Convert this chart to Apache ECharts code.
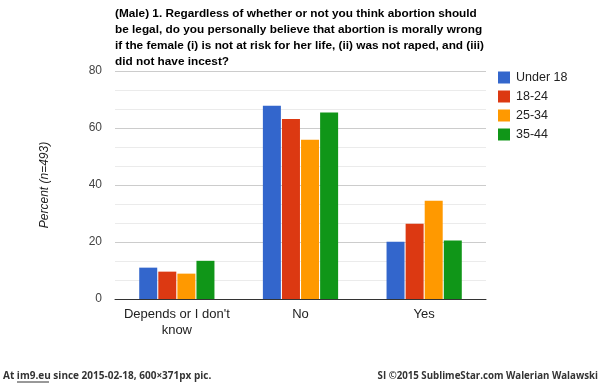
<!DOCTYPE html>
<html>
<head>
<meta charset="utf-8">
<script src="https://cdn.jsdelivr.net/npm/echarts@6/dist/echarts.min.js"></script>
<style>
html,body{margin:0;padding:0;background:#fff;}
#chart{width:600px;height:383px;}
</style>
</head>
<body>
<div id="chart"></div>
<script>
const titleText = "(Male) 1. Regardless of whether or not you think abortion should\nbe legal, do you personally believe that abortion is morally wrong\nif the female (i) is not at risk for her life, (ii) was not raped, and (iii)\ndid not have incest?";
const categories = ["Depends or I don't\nknow", "No", "Yes"];
const seriesNames = ["Under 18", "18-24", "25-34", "35-44"];
const under18 = [11.0, 67.8, 20.1];
const age18to24 = [9.6, 63.2, 26.4];
const age25to34 = [8.9, 55.9, 34.5];
const age35to44 = [13.4, 65.4, 20.5];
const yTicks = [0, 20, 40, 60, 80];
const colors = ["#3366cc", "#dc3912", "#ff9900", "#109618"];
const allValues = [under18, age18to24, age25to34, age35to44];

const chart = echarts.init(document.getElementById('chart'), null, {renderer: 'canvas'});
const option = {
  animation: false,
  backgroundColor: '#ffffff',
  color: colors,
  title: {
    text: titleText,
    left: 115,
    top: 6,
    padding: 0,
    textStyle: {fontFamily: 'Liberation Sans, Arial', fontSize: 11.8, fontWeight: 'bold', color: '#000', lineHeight: 16}
  },
  legend: {
    orient: 'vertical',
    left: 498,
    top: 71,
    padding: 0,
    itemWidth: 12,
    itemHeight: 12,
    itemGap: 6,
    icon: 'rect',
    textStyle: {fontFamily: 'Liberation Sans, Arial', fontSize: 12.5, color: '#222', lineHeight: 12, padding: [0,0,0,1]},
    data: seriesNames
  },
  grid: {left: 115, right: 114, top: 71, bottom: 84, containLabel: false},
  xAxis: {
    type: 'category',
    data: categories,
    axisLine: {lineStyle: {color: '#333', width: 1}},
    axisTick: {show: false},
    axisLabel: {fontFamily: 'Liberation Sans, Arial', fontSize: 13, color: '#222', lineHeight: 16, margin: 7, interval: 0}
  },
  yAxis: {
    type: 'value',
    min: yTicks[0],
    max: yTicks[yTicks.length - 1],
    interval: 20,
    name: 'Percent (n=493)',
    nameLocation: 'middle',
    nameGap: 64,
    nameTextStyle: {fontFamily: 'Liberation Sans, Arial', fontSize: 12, fontStyle: 'italic', color: '#222'},
    axisLine: {show: false},
    axisTick: {show: false},
    axisLabel: {fontFamily: 'Liberation Sans, Arial', fontSize: 12, color: '#444', margin: 13},
    splitLine: {lineStyle: {color: '#cccccc', width: 1}},
    minorTick: {show: false, splitNumber: 3},
    minorSplitLine: {show: true, lineStyle: {color: '#ebebeb', width: 1}}
  },
  series: seriesNames.map((n, i) => ({
    name: n,
    type: 'bar',
    data: allValues[i],
    barWidth: 18,
    barGap: '6%',
    itemStyle: {color: colors[i]}
  })),
  graphic: [
    {type: 'text', left: 3, top: 371, style: {text: 'At im9.eu since 2015-02-18, 600×371px pic.', font: 'bold 10px "Open Sans", sans-serif', fill: '#333'}},
    {type: 'line', shape: {x1: 17, y1: 382, x2: 49, y2: 382}, style: {stroke: '#333', lineWidth: 1}},
    {type: 'text', right: 2, top: 371, style: {text: 'SI ©2015 SublimeStar.com Walerian Walawski', font: 'bold 9.7px "Open Sans", sans-serif', fill: '#333'}}
  ]
};
chart.setOption(option);
</script>
</body>
</html>
